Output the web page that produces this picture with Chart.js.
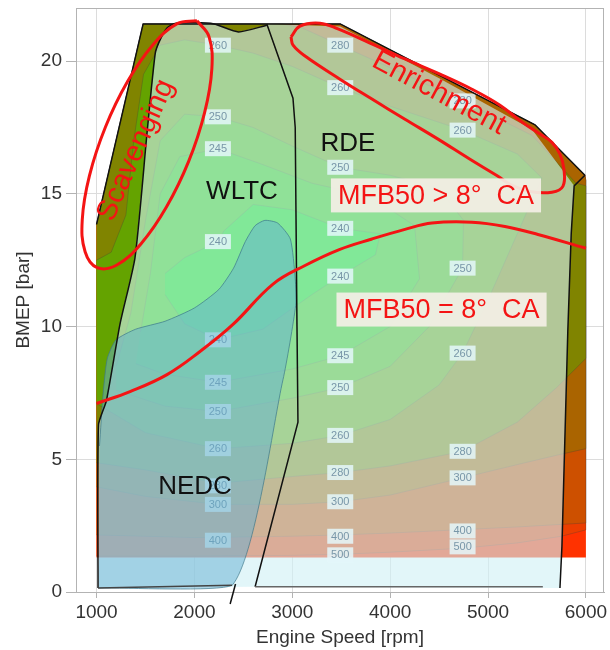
<!DOCTYPE html>
<html>
<head>
<meta charset="utf-8">
<script src="https://cdn.jsdelivr.net/npm/chart.js@4.4.1/dist/chart.umd.min.js"></script>
<style>
  html, body { margin: 0; padding: 0; background: #fff; }
</style>
</head>
<body>
<canvas id="c" width="610" height="650"></canvas>
<script>
// axis ticks
const xTicks = [1000, 2000, 3000, 4000, 5000, 6000];
const yTicks = [0, 5, 10, 15, 20];

// full load curve (top of the map), [rpm, bar]
const fullLoad = [[1000, 13.85], [1476, 21.4], [3490, 21.4], [5480, 17.6], [5990, 15.7], [6000, 15.5]];
const mapBottom = [[1000, 1.3], [6000, 1.3]];

// BSFC contour lines (g/kWh)
const bottom500 = [[1000, 1.35], [2000, 1.35], [3000, 1.38], [3490, 1.42], [4000, 1.5], [4740, 1.65], [5300, 1.85], [5750, 2.1], [6000, 2.34]];
const bottom400 = [[1000, 2.15], [2000, 2.05], [3000, 2.1], [3490, 2.15], [4000, 2.22], [4740, 2.35], [5300, 2.45], [6000, 2.6]];
const bottom300 = [[1000, 3.96], [1500, 3.6], [2240, 3.3], [3000, 3.3], [3490, 3.4], [4000, 3.65], [4740, 4.3], [5300, 4.8], [5700, 5.15], [6000, 5.4]];
const bottom280 = [[1000, 4.87], [1500, 4.6], [2240, 4.1], [3000, 4.35], [3490, 4.5], [4000, 4.75], [4740, 5.3], [5300, 6.4], [5700, 7.7], [6000, 8.8]];
const top280 = [[6000, 15.3], [5900, 15.4], [5450, 17.2], [4740, 18.5], [4000, 19.75], [3490, 20.6], [3100, 21.25], [2900, 21.4]];
const iso260 = [[1000, 7.1], [1500, 6.0], [2240, 5.4], [3000, 5.6], [3490, 5.9], [4000, 6.5], [4500, 7.8], [4740, 9.0], [5000, 11], [5300, 13.5], [5550, 15.6], [5300, 16.5], [4740, 17.4], [4000, 18.3], [3490, 19.0], [3000, 19.8], [2600, 20.3], [2240, 20.6], [1900, 20.8], [1650, 20.6], [1480, 19.5], [1380, 17], [1300, 14.2], [1150, 12.8], [1000, 12.5]];
const iso250 = [[1200, 7.6], [1700, 7.0], [2240, 6.8], [3000, 7.3], [3490, 7.7], [4000, 8.5], [4400, 10], [4740, 12.2], [4750, 14], [4500, 15.2], [4000, 15.7], [3490, 16.0], [3000, 16.8], [2600, 17.5], [2240, 17.9], [1900, 18.0], [1650, 17], [1500, 14], [1350, 10.5], [1200, 8.5]];
const iso245 = [[1400, 8.6], [1700, 8.2], [2240, 7.9], [3000, 8.4], [3490, 8.9], [4000, 10], [4300, 11.8], [4250, 13.8], [3800, 14.9], [3200, 15.4], [2700, 16.1], [2240, 16.7], [1850, 16.4], [1650, 15], [1550, 12], [1450, 9.8]];
const iso240 = [[1700, 11.2], [1900, 10.1], [2240, 9.5], [2700, 9.9], [3200, 11.2], [3490, 11.9], [3850, 12.7], [3900, 13.5], [3490, 13.7], [3000, 14.4], [2600, 14.6], [2300, 13.6], [2240, 13.2], [1900, 12.6], [1700, 12]];

// >500, 400-500, 300-400, 280-300, 260-280, 250-260, 245-250, 240-245, <240
const bandColors = ['rgb(255,50,0)', 'rgb(235,62,0)', 'rgb(205,80,0)', 'rgb(170,100,0)', 'rgb(128,132,0)', 'rgb(100,163,0)', 'rgb(70,183,0)', 'rgb(40,200,0)', 'rgb(0,217,0)'];

// contour labels [rpm, bar, text]
const contourLabels = [
  [2240, 20.6, '260'], [2240, 17.9, '250'], [2240, 16.7, '245'], [2240, 13.2, '240'], [2240, 9.5, '240'],
  [2240, 7.9, '245'], [2240, 6.8, '250'], [2240, 5.4, '260'], [2240, 4.0, '280'], [2240, 3.3, '300'], [2240, 1.95, '400'],
  [3490, 20.6, '280'], [3490, 19.0, '260'], [3490, 16.0, '250'], [3490, 13.7, '240'], [3490, 11.9, '240'],
  [3490, 8.9, '245'], [3490, 7.7, '250'], [3490, 5.9, '260'], [3490, 4.5, '280'], [3490, 3.4, '300'], [3490, 2.1, '400'], [3490, 1.4, '500'],
  [4740, 18.5, '280'], [4740, 17.4, '260'], [4740, 12.2, '250'], [4740, 9.0, '260'], [4740, 5.3, '280'],
  [4740, 4.3, '300'], [4740, 2.3, '400'], [4740, 1.7, '500']
];

// cycle areas
const wltcLeft = [[1015, 0.15], [1020, 6.3], [1100, 7.2], [1240, 10.1], [1393, 12.6], [1516, 17.3], [1600, 20.3], [1649, 20.8], [1720, 21.25], [1800, 21.42], [2000, 21.45], [2200, 21.4], [2450, 21.1], [2740, 21.35]];
const rdeLeft = [[2740, 21.4], [3007, 18.6], [3030, 17.5], [3048, 10], [3058, 6.4], [2620, 0.2]];
const rdeArea = [[2620, 0.2], [5735, 0.15], [5755, 1.7], [5815, 9.8], [5850, 13.5], [5880, 15.3], [5450, 17.42], [4500, 19.35], [3490, 21.3], [2740, 21.4], [3007, 18.6], [3030, 17.5], [3048, 10], [3058, 6.4]];
const rdeRight = [[5990, 15.7], [5880, 15.3], [5850, 13.5], [5815, 9.8], [5755, 1.7], [5735, 0.15]];
const nedcArea = [[1020, 0.15], [2385, 0.25], [2905, 8.0], [3035, 10.8], [3030, 11.8], [2980, 13.3], [2850, 13.9], [2720, 14.0], [2620, 13.8], [2520, 13.2], [2400, 12.2], [2250, 11.4], [2000, 10.7], [1700, 10.2], [1400, 9.9], [1200, 9.5], [1110, 8.8], [1068, 7.5], [1030, 5.5]];
const rdeBottom = [[2620, 0.2], [5560, 0.2]];
const nedcBottom = [[1015, 0.15], [2385, 0.25]];
const edgeTail = [[2365, -0.45], [2420, 0.3]];

// red annotations
const mfb50Line = [[1000, 7.1], [1342, 7.55], [1720, 8.19], [2057, 9.06], [2394, 10.08], [2803, 11.6], [3130, 12.3], [3480, 12.9], [3815, 13.3], [4151, 13.66], [4427, 13.9], [4836, 13.93], [5173, 13.77], [5510, 13.47], [6000, 12.95]];
const scavengingLoop = [[2026, 21.52], [2149, 20.92], [2178, 19.71], [2104, 18.06], [1942, 16.23], [1714, 14.5], [1457, 13.13], [1207, 12.32], [1006, 12.22], [883, 12.82], [854, 14.03], [927, 15.68], [1090, 17.51], [1318, 19.24], [1575, 20.61], [1824, 21.41], [2026, 21.52]];
const enrichmentLoop = [[2987, 20.91], [3079, 21.32], [3283, 21.43], [3467, 21.21], [3794, 20.68], [4151, 20.08], [4509, 19.51], [4836, 18.94], [5122, 18.34], [5347, 17.7], [5531, 17.25], [5653, 16.94], [5735, 16.49], [5776, 15.92], [5765, 15.28], [5653, 15.06], [5429, 15.09], [5225, 15.36], [5102, 15.66], [4816, 16.3], [4489, 17.06], [4151, 17.81], [3814, 18.57], [3487, 19.32], [3130, 20.19], [3008, 20.6], [2987, 20.91]];

const regionLabels = [['WLTC', 2486, 15.06], ['RDE', 3569, 16.87], ['NEDC', 2006, 3.96]];
const redLabels = [['Scavenging', 1403, 16.64, -66], ['Enrichment', 4498, 18.79, 28]];
const boxLabels = [['MFB50 > 8°  CA', 4468, 14.94], ['MFB50 = 8°  CA', 4525, 10.64]];

const FONT = '"Liberation Sans", Arial, sans-serif';
const toXY = pts => pts.map(p => ({ x: p[0], y: p[1] }));
const withTop = bottom => bottom.concat(fullLoad.slice().reverse());

function area(label, pts, color, border, bw, tension) {
  return { label, data: toXY(pts), fill: 'shape', backgroundColor: color,
    borderColor: border || 'rgba(0,0,0,0)', borderWidth: bw || 0, pointRadius: 0, tension: tension || 0 };
}
function curve(label, pts, color, w, tension) {
  return { label, data: toXY(pts), fill: false, borderColor: color, borderWidth: w,
    pointRadius: 0, tension: tension || 0 };
}

const isoLine = 'rgba(60,60,60,0.35)';
const overlay = 'rgba(209,240,246,0.62)';
const datasets = [
  area('base', mapBottom.concat(fullLoad.slice().reverse()), bandColors[0]),
  area('lt500', withTop(bottom500), bandColors[1], isoLine, 0.8),
  area('lt400', withTop(bottom400), bandColors[2], isoLine, 0.8),
  area('lt300', withTop(bottom300), bandColors[3], isoLine, 0.8),
  area('lt280', bottom280.concat(top280, [[1476, 21.4], [1000, 13.85]]), bandColors[4], isoLine, 0.8),
  area('lt260', iso260, bandColors[5], isoLine, 0.8),
  area('lt250', iso250, bandColors[6], isoLine, 0.8),
  area('lt245', iso245, bandColors[7], isoLine, 0.8),
  area('lt240', iso240, bandColors[8], isoLine, 0.8),
  area('RDE', rdeArea, overlay),
  area('WLTC', wltcLeft.concat(rdeLeft.slice(1)), overlay),
  area('NEDC', nedcArea, 'rgba(100,175,210,0.5)', 'rgba(60,120,140,0.7)', 1, 0.2),
  curve('fullLoad', fullLoad.slice(0, 5), '#111', 1.5),
  curve('rdeRight', rdeRight, '#111', 1.5),
  curve('wltcLeft', wltcLeft, '#111', 1.5, 0.2),
  curve('rdeLeft', rdeLeft, '#111', 1.5),
  curve('rdeBottom', rdeBottom, '#666', 1.5),
  curve('nedcBottom', nedcBottom, '#444', 1.5),
  Object.assign(curve('tail', edgeTail, '#111', 1.5), { clip: false }),
  curve('mfb50', mfb50Line, '#f41414', 3, 0.4),
  curve('scavenging', scavengingLoop, '#f41414', 3, 0.4),
  curve('enrichment', enrichmentLoop, '#f41414', 3, 0.4)
];
datasets.forEach((d, i) => { d.order = datasets.length - i; });

const annotations = {
  id: 'annotations',
  beforeDatasetsDraw(chart) {
    const { ctx, chartArea: a } = chart;
    ctx.save();
    ctx.strokeStyle = '#b3b3b3';
    ctx.lineWidth = 1;
    ctx.strokeRect(a.left + 0.5, a.top + 0.5, a.right - a.left - 1, a.bottom - a.top);
    ctx.restore();
  },
  afterDatasetDraw(chart, args) {
    // contour labels sit above the cycle areas but below NEDC
    if (chart.data.datasets[args.index].label !== 'WLTC') return;
    const { ctx, scales: { x, y } } = chart;
    ctx.save();
    ctx.font = '11px ' + FONT;
    ctx.textAlign = 'center';
    ctx.textBaseline = 'middle';
    contourLabels.forEach(([vx, vy, t]) => {
      const px = x.getPixelForValue(vx), py = y.getPixelForValue(vy);
      ctx.fillStyle = 'rgba(228,247,250,0.85)';
      ctx.fillRect(px - 13, py - 7.5, 26, 15);
      ctx.fillStyle = '#7896a8';
      ctx.fillText(t, px, py + 0.5);
    });
    ctx.restore();
  },
  afterDatasetsDraw(chart) {
    const { ctx, scales: { x, y } } = chart;
    ctx.save();
    ctx.textAlign = 'center';
    ctx.textBaseline = 'middle';
    ctx.font = '26px ' + FONT;
    ctx.fillStyle = '#111';
    regionLabels.forEach(([t, vx, vy]) => ctx.fillText(t, x.getPixelForValue(vx), y.getPixelForValue(vy)));
    ctx.font = '27px ' + FONT;
    boxLabels.forEach(([t, vx, vy]) => {
      const px = x.getPixelForValue(vx), py = y.getPixelForValue(vy);
      const w = ctx.measureText(t).width + 14;
      ctx.fillStyle = 'rgba(243,239,229,0.93)';
      ctx.fillRect(px - w / 2, py - 17, w, 34);
      ctx.fillStyle = '#f41414';
      ctx.fillText(t, px, py + 1);
    });
    ctx.font = '29px ' + FONT;
    redLabels.forEach(([t, vx, vy, ang]) => {
      ctx.save();
      ctx.translate(x.getPixelForValue(vx), y.getPixelForValue(vy));
      ctx.rotate(ang * Math.PI / 180);
      ctx.fillStyle = '#f41414';
      ctx.fillText(t, 0, 0);
      ctx.restore();
    });
    ctx.restore();
  }
};

new Chart(document.getElementById('c'), {
  type: 'line',
  data: { datasets },
  options: {
    responsive: false,
    animation: false,
    devicePixelRatio: 1,
    layout: { padding: { left: 0, right: 6, top: 8, bottom: 0 } },
    plugins: { legend: { display: false }, tooltip: { enabled: false } },
    scales: {
      x: {
        type: 'linear', min: 790, max: 6185,
        afterBuildTicks: s => { s.ticks = xTicks.map(v => ({ value: v })); },
        afterFit: s => { s.height = 58; s.paddingLeft = 0; s.paddingRight = 0; },
        grid: { color: '#dcdcdc', tickLength: 6, tickColor: '#b3b3b3' },
        border: { color: '#b3b3b3' },
        ticks: { color: '#333', padding: 3, font: { size: 19, family: FONT }, callback: v => String(v) },
        title: { display: true, text: 'Engine Speed [rpm]', color: '#333', padding: { top: 0, bottom: 1 }, font: { size: 19, family: FONT } }
      },
      y: {
        type: 'linear', min: 0, max: 22,
        afterBuildTicks: s => { s.ticks = yTicks.map(v => ({ value: v })); },
        afterFit: s => { s.width = 76; s.paddingTop = 0; s.paddingBottom = 0; },
        grid: { color: '#dcdcdc', tickLength: 10, tickColor: '#b3b3b3' },
        border: { color: '#b3b3b3' },
        ticks: { color: '#333', padding: 4, font: { size: 19, family: FONT }, callback: v => String(v) },
        title: { display: true, text: 'BMEP [bar]', color: '#333', padding: { top: 12, bottom: 0 }, font: { size: 19, family: FONT } }
      }
    }
  },
  plugins: [annotations]
});
</script>
</body>
</html>
